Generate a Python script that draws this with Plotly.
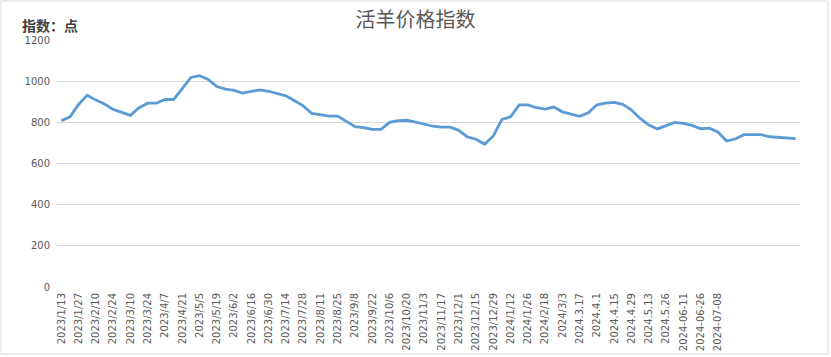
import plotly.graph_objects as go

# Weekly live-sheep price index values
values = [808, 827, 887, 932, 908, 889, 863, 850, 834, 871,
          893, 893, 911, 911, 967, 1018, 1027, 1008, 974, 961,
          955, 942, 950, 958, 951, 940, 929, 905, 880, 843,
          835, 830, 830, 806, 779, 774, 766, 766, 800, 808,
          810, 801, 792, 781, 777, 777, 761, 729, 718, 694,
          734, 814, 827, 885, 885, 871, 864, 874, 851, 839,
          829, 846, 885, 893, 897, 887, 860, 819, 787, 768,
          785, 800, 795, 785, 769, 772, 753, 709, 719, 740,
          740, 740, 730, 727, 727, 721]

# Tick labels shown on the axis (every other week)
tick_labels = ["2023/1/13", "2023/1/27", "2023/2/10", "2023/2/24", "2023/3/10",
               "2023/3/24", "2023/4/7", "2023/4/21", "2023/5/5", "2023/5/19",
               "2023/6/2", "2023/6/16", "2023/6/30", "2023/7/14", "2023/7/28",
               "2023/8/11", "2023/8/25", "2023/9/8", "2023/9/22", "2023/10/6",
               "2023/10/20", "2023/11/3", "2023/11/17", "2023/12/1", "2023/12/15",
               "2023/12/29", "2024/1/12", "2024/1/26", "2024/2/18", "2024/3/3",
               "2024.3.17", "2024.4.1", "2024.4.15", "2024.4.29", "2024.5.13",
               "2024.5.26", "2024-06-11", "2024-06-26", "2024-07-08"]
tick_positions = [2 * i for i in range(len(tick_labels))]

y_ticks = [0, 200, 400, 600, 800, 1000, 1200]

x = list(range(len(values)))

fig = go.Figure()
fig.add_trace(go.Scatter(
    x=x, y=values, mode="lines",
    line=dict(color="#5b9bd5", width=2.8),
    hoverinfo="x+y", showlegend=False,
))

fig.update_layout(
    width=831, height=357,
    margin=dict(l=57, r=31, t=40, b=70),
    paper_bgcolor="white", plot_bgcolor="white",
    font=dict(family="Noto Sans CJK SC, DejaVu Sans, sans-serif", color="#595959"),
    title=dict(text="活羊价格指数", x=0.5, xanchor="center", y=0.945, yanchor="middle",
               font=dict(size=20, color="#595959",
                         family="Noto Sans CJK SC, sans-serif")),
    xaxis=dict(
        range=[-0.5, len(values) - 0.5],
        tickmode="array", tickvals=tick_positions, ticktext=tick_labels,
        tickangle=-90, tickfont=dict(size=10, color="#595959",
                                     family="DejaVu Sans, sans-serif"),
        showgrid=False, zeroline=False, showline=False, ticks="",
        ticklabelstandoff=3, automargin=False,
    ),
    yaxis=dict(
        range=[0, 1200], tickmode="array", tickvals=y_ticks,
        tickfont=dict(size=10, color="#595959", family="DejaVu Sans, sans-serif"),
        showgrid=True, gridcolor="#d9d9d9", gridwidth=1,
        zeroline=False, showline=False, ticks="", ticklabelstandoff=6,
        automargin=False,
    ),
    annotations=[dict(
        text="<b>指数：点</b>", xref="paper", yref="paper",
        x=22 / 831 - 57 / 743, y=1 + 15 / 247, xanchor="left", yanchor="middle",
        showarrow=False, font=dict(size=14, color="#404040",
                                   family="Noto Sans CJK SC, sans-serif"),
    )],
    shapes=[dict(
        type="rect", xref="paper", yref="paper",
        x0=-56 / 743, x1=1 + 28 / 743, y0=-67 / 247, y1=1 + 39 / 247,
        line=dict(color="#d9d9d9", width=1), fillcolor="rgba(0,0,0,0)",
    )],
)

fig.write_html("out.html")
